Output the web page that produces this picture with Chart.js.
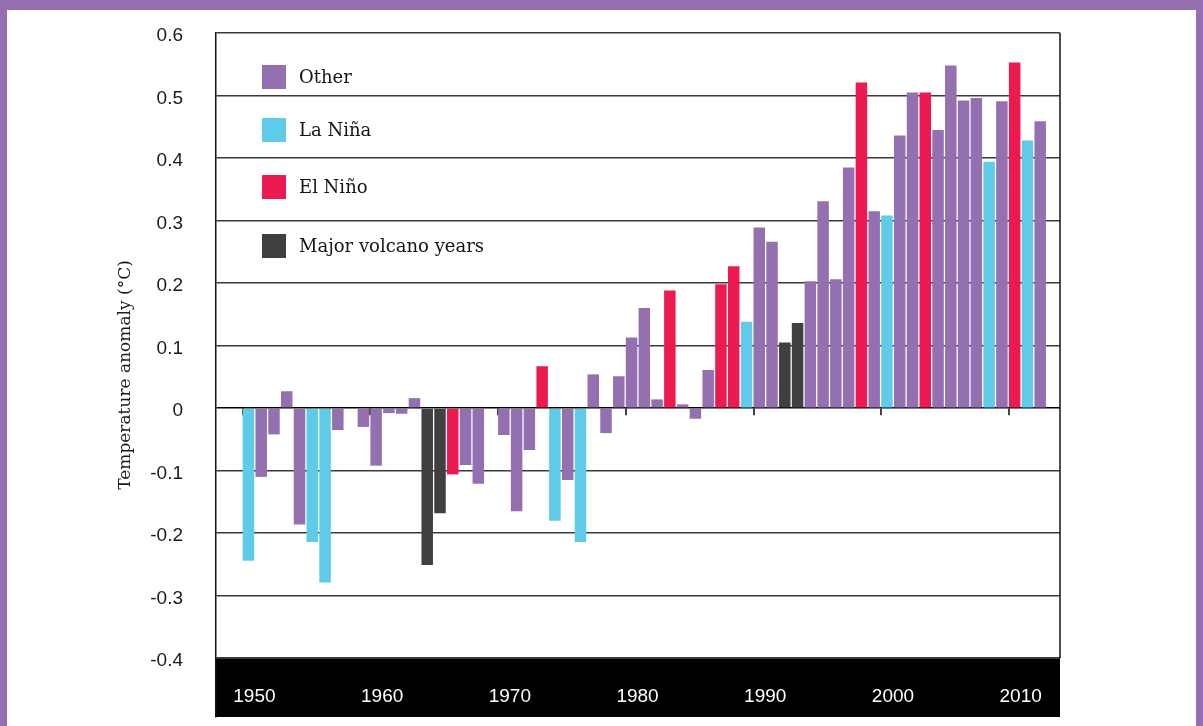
<!DOCTYPE html>
<html>
<head>
<meta charset="utf-8">
<script src="https://cdn.jsdelivr.net/npm/chart.js@4.4.1/dist/chart.umd.min.js"></script>
<style>
  html, body { margin: 0; padding: 0; width: 1203px; height: 726px; overflow: hidden; background: #9470b0; }
  #frame { position: absolute; left: 7px; top: 10px; width: 1189px; height: 716px; background: #fff; }
</style>
</head>
<body>
<div id="frame"><canvas id="anomalyChart"></canvas></div>
<script>
// ----------------------------------------------------------------------
// data
// ----------------------------------------------------------------------
const YEARS = [
  1950, 1951, 1952, 1953, 1954, 1955, 1956, 1957, 1958, 1959,
  1960, 1961, 1962, 1963, 1964, 1965, 1966, 1967, 1968, 1969,
  1970, 1971, 1972, 1973, 1974, 1975, 1976, 1977, 1978, 1979,
  1980, 1981, 1982, 1983, 1984, 1985, 1986, 1987, 1988, 1989,
  1990, 1991, 1992, 1993, 1994, 1995, 1996, 1997, 1998, 1999,
  2000, 2001, 2002, 2003, 2004, 2005, 2006, 2007, 2008, 2009,
  2010, 2011, 2012
];

const ANOMALY = [
  -0.244, -0.110, -0.042,  0.027, -0.186, -0.214, -0.279, -0.035,  0.000, -0.030,
  -0.092, -0.008, -0.009,  0.016, -0.251, -0.168, -0.106, -0.091, -0.121,  0.000,
  -0.043, -0.165, -0.067,  0.067, -0.180, -0.115, -0.214,  0.054, -0.040,  0.051,
   0.113,  0.160,  0.014,  0.188,  0.006, -0.017,  0.061,  0.198,  0.227,  0.138,
   0.289,  0.266,  0.105,  0.136,  0.203,  0.331,  0.206,  0.385,  0.521,  0.315,
   0.308,  0.436,  0.505,  0.505,  0.445,  0.548,  0.492,  0.496,  0.394,  0.491,
   0.553,  0.428,  0.459
];

// O = other, N = La Nina, E = El Nino, V = major volcano year
const KIND = [
  'N','O','O','O','O','N','N','O','O','O',
  'O','O','O','O','V','V','E','O','O','O',
  'O','O','O','E','N','O','N','O','O','O',
  'O','O','O','E','O','O','O','E','E','N',
  'O','O','V','V','O','O','O','O','E','O',
  'N','O','O','E','O','O','O','O','N','O',
  'E','N','O'
];

const SERIES = [
  { key: 'O', label: 'Other',               color: '#9470b0' },
  { key: 'N', label: 'La Niña',             color: '#60cbe8' },
  { key: 'E', label: 'El Niño',             color: '#ec1a50' },
  { key: 'V', label: 'Major volcano years', color: '#404042' }
];

// legend rows (canvas px, top of each swatch)
const LEGEND_TOP = [55, 108, 165, 224];
const LEGEND_X = 255;
const SWATCH = 24;

Chart.defaults.font.family = '"Liberation Sans", Arial, sans-serif';

// ----------------------------------------------------------------------
// decorations: black year band, zero-line ticks, right frame, legend
// ----------------------------------------------------------------------
const decor = {
  id: 'decor',
  beforeDraw(chart) {
    const { ctx, chartArea: a, scales: { y } } = chart;
    const top = y.getPixelForValue(-0.4);
    ctx.save();
    ctx.fillStyle = '#000';
    ctx.fillRect(a.left, top, a.right - a.left, a.bottom - top);
    ctx.restore();
  },
  beforeDatasetsDraw(chart) {
    const { ctx, chartArea: a, scales: { x, y } } = chart;
    const bar = chart.getDatasetMeta(0).data[0];
    const half = bar ? bar.width / 2 : 0;
    const y0 = y.getPixelForValue(0);
    ctx.save();
    ctx.strokeStyle = '#444';
    ctx.lineWidth = 2;
    x.ticks.forEach(t => {
      const px = Math.round(x.getPixelForValue(t.value) - half);
      ctx.beginPath();
      ctx.moveTo(px, y0);
      ctx.lineTo(px, y0 + 7);
      ctx.stroke();
    });
    ctx.strokeStyle = '#111';
    ctx.lineWidth = 1.5;
    ctx.beginPath();
    ctx.moveTo(a.right, a.top);
    ctx.lineTo(a.right, y.getPixelForValue(-0.4));
    ctx.stroke();
    ctx.restore();
  },
  afterDraw(chart) {
    const { ctx } = chart;
    ctx.save();
    ctx.font = '18px "DejaVu Serif", serif';
    ctx.textBaseline = 'middle';
    chart.data.datasets.forEach((ds, i) => {
      const top = LEGEND_TOP[i];
      ctx.fillStyle = ds.backgroundColor;
      ctx.fillRect(LEGEND_X, top, SWATCH, SWATCH);
      ctx.fillStyle = '#141414';
      ctx.fillText(ds.label, LEGEND_X + 37, top + SWATCH / 2 + 1);
    });
    ctx.restore();
  }
};

// ----------------------------------------------------------------------
// chart
// ----------------------------------------------------------------------
const datasets = SERIES.map(s => ({
  label: s.label,
  backgroundColor: s.color,
  data: YEARS
    .map((yr, i) => ({ x: yr, y: ANOMALY[i], k: KIND[i] }))
    .filter(p => p.k === s.key)
    .map(p => ({ x: p.x, y: p.y })),
  grouped: false,
  barPercentage: 0.9,
  categoryPercentage: 1,
  borderWidth: 0
}));

new Chart(document.getElementById('anomalyChart'), {
  type: 'bar',
  data: { datasets },
  options: {
    animation: false,
    responsive: true,
    maintainAspectRatio: false,
    layout: { padding: { top: 23, right: 136, bottom: 0, left: 0 } },
    plugins: {
      legend: { display: false },
      tooltip: { enabled: false }
    },
    scales: {
      x: {
        type: 'linear',
        offset: false,
        min: 1947.46,
        max: 2013.55,
        grid: { display: false, drawTicks: false },
        border: { display: false },
        ticks: {
          stepSize: 10,
          includeBounds: false,
          maxRotation: 0,
          autoSkip: false,
          mirror: true,
          color: '#fff',
          font: { size: 19 },
          padding: 9,
          labelOffset: 6,
          callback: v => String(v)
        },
        afterFit: s => { s.height = 9; s.paddingLeft = 0; s.paddingRight = 0; }
      },
      y: {
        min: -0.494,
        max: 0.6,
        grid: {
          drawTicks: false,
          lineWidth: 1.5,
          color: c => (c.tick && c.tick.value === 0 ? '#000' : '#3a3a3a')
        },
        border: { color: '#111', width: 1.5 },
        ticks: {
          stepSize: 0.1,
          includeBounds: false,
          padding: 33,
          labelOffset: 3,
          color: '#1a1a1a',
          font: { size: 19 },
          callback: v => String(Math.round(v * 10) / 10)
        },
        title: {
          display: true,
          text: 'Temperature anomaly (°C)',
          color: '#1a1a1a',
          font: { family: '"DejaVu Serif", serif', size: 17 },
          padding: { top: 108, bottom: 0 }
        },
        afterFit: s => { s.width = 209; s.paddingTop = 0; s.paddingBottom = 0; }
      }
    }
  },
  plugins: [decor]
});
</script>
</body>
</html>
